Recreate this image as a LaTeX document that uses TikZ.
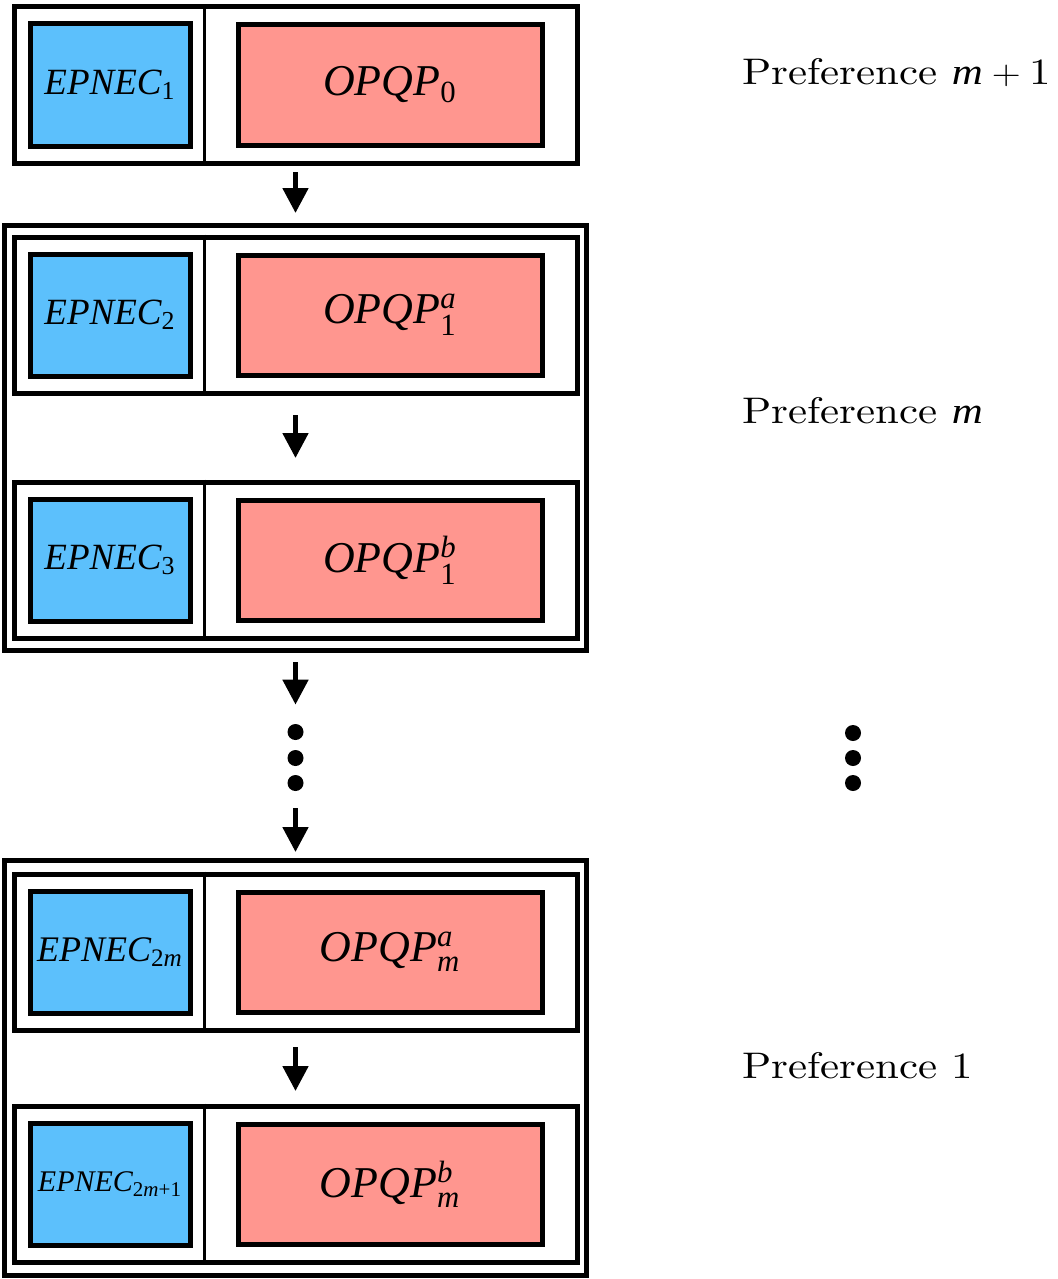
\documentclass[tikz,border=0pt]{standalone}
\usepackage{fontspec}
\usepackage{amsmath}
\usepackage{graphicx}
\newfontfamily\boxfont{Liberation Serif}
\newfontfamily\preffont{lmroman10-regular.otf}
\usetikzlibrary{arrows.meta,calc}
\definecolor{epnecblue}{RGB}{92,192,252}
\definecolor{opqpred}{RGB}{255,150,143}

\begin{document}
\begin{tikzpicture}[x=0.5pt,y=-0.5pt,
  rowbox/.style={draw,line width=2.5pt,minimum width=281.5pt,minimum height=78pt,inner sep=0pt},
  groupbox/.style={draw,line width=2.5pt,minimum width=291pt,inner sep=0pt},
  divider/.style={line width=1.5pt},
  epnec/.style={draw,fill=epnecblue,line width=2.5pt,minimum width=80pt,minimum height=61pt,inner sep=0pt,font=\boxfont\itshape\fontsize{18.5}{22}\selectfont},
  opqp/.style={draw,fill=opqpred,line width=2.5pt,minimum width=152pt,minimum height=60pt,inner sep=0pt,font=\boxfont\itshape\fontsize{22}{26}\selectfont},
  flow/.style={-{Triangle[length=12.5pt,width=12.5pt]},line width=2.5pt},
  dot/.style={circle,fill,inner sep=0pt,minimum size=8pt},
  pref/.style={anchor=base west,inner sep=0pt,font=\preffont\fontsize{18.5}{22}\selectfont}]
%
\def\xc{295.5};
\def\dx{96.5pt};
\def\eoff{-185.5};
\def\ooff{94.5};
\def\mi{{\boxfont\itshape m}};
%
\useasboundingbox (0,0) rectangle (1058,1279);
%
\node[groupbox,minimum height=212.5pt] (g1) at (\xc,437.5) {};
\node[groupbox,minimum height=207.5pt] (g2) at (\xc,1067.5) {};
%
\node[rowbox] (r0) at (\xc,85) {};
\node[rowbox] (r1a) at (\xc,315) {};
\node[rowbox] (r1b) at (\xc,560) {};
\node[rowbox] (r2a) at (\xc,952) {};
\node[rowbox] (r2b) at (\xc,1184) {};
%
\draw[divider]([xshift=\dx]r0.north west)--([xshift=\dx]r0.south west);
\draw[divider]([xshift=\dx]r1a.north west)--([xshift=\dx]r1a.south west);
\draw[divider]([xshift=\dx]r1b.north west)--([xshift=\dx]r1b.south west);
\draw[divider]([xshift=\dx]r2a.north west)--([xshift=\dx]r2a.south west);
\draw[divider]([xshift=\dx]r2b.north west)--([xshift=\dx]r2b.south west);
%
\node[epnec] (e0) at ($(r0)+(\eoff,0)$) {EPNEC$_{\text{\upshape 1}}$};
\node[epnec] (e1a) at ($(r1a)+(\eoff,0)$) {EPNEC$_{\text{\upshape 2}}$};
\node[epnec] (e1b) at ($(r1b)+(\eoff,0)$) {EPNEC$_{\text{\upshape 3}}$};
\node[epnec,font=\boxfont\itshape\fontsize{18}{21}\selectfont] (e2a) at ($(r2a)+(\eoff,0)$) {EPNEC$_{\text{\upshape 2\itshape m}}$};
\node[epnec,font=\boxfont\itshape\fontsize{15}{18}\selectfont] (e2b) at ($(r2b)+(\eoff,0)$) {EPNEC$_{\text{\upshape 2\itshape m\upshape +1}}$};
%
\node[opqp] (o0) at ($(r0)+(\ooff,0)$) {OPQP$_{\text{\upshape 0}}$};
\node[opqp] (o1a) at ($(r1a)+(\ooff,0)$) {OPQP$^{\text{a}}_{\text{\upshape 1}}$};
\node[opqp] (o1b) at ($(r1b)+(\ooff,0)$) {OPQP$^{\text{b}}_{\text{\upshape 1}}$};
\node[opqp] (o2a) at ($(r2a)+(\ooff,0)$) {OPQP$^{\text{a}}_{\text{m}}$};
\node[opqp] (o2b) at ($(r2b)+(\ooff,0)$) {OPQP$^{\text{b}}_{\text{m}}$};
%
\node[dot] (d1) at (\xc,732) {};
\node[dot] (d2) at (\xc,758) {};
\node[dot] (d3) at (\xc,783) {};
\node[dot] (q1) at (853,733) {};
\node[dot] (q2) at (853,758) {};
\node[dot] (q3) at (853,783) {};
%
\draw[flow,shorten <=3.25pt,shorten >=4.75pt](r0.south)--(g1.north);
\draw[flow,shorten <=9.75pt,shorten >=10.75pt](r1a.south)--(r1b.north);
\draw[flow,shorten <=4.75pt,shorten >=9.5pt](g1.south)--(d1.north);
\draw[flow,shorten <=8.5pt,shorten >=2.75pt](d3.south)--(g2.north);
\draw[flow,shorten <=7.25pt,shorten >=6.25pt](r2a.south)--(r2b.north);
%
\node[pref] (p0) at (742,85) {\scalebox{1.16}[1]{Preference \mi${}+{}$1}};
\node[pref] (p1) at (742,423) {\scalebox{1.16}[1]{Preference \mi}};
\node[pref] (p2) at (742,1078) {\scalebox{1.16}[1]{Preference 1}};
%
\end{tikzpicture}
\end{document}
